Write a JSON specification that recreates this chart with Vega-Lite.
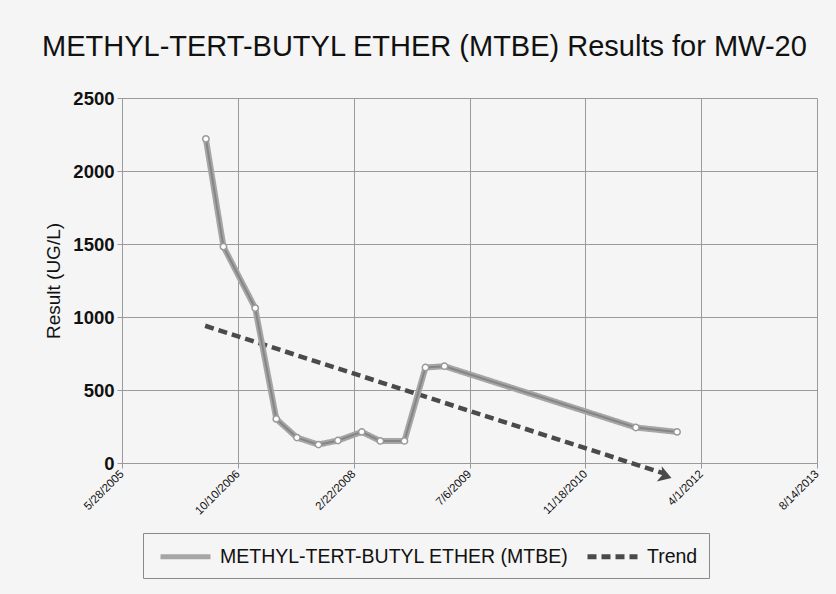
{
  "$schema": "https://vega.github.io/schema/vega-lite/v6.json",
  "width": 695,
  "height": 365,
  "autosize": {"type": "none"},
  "padding": {"left": 122, "top": 98, "right": 19, "bottom": 131},
  "background": "#f5f5f5",
  "title": {
    "text": "METHYL-TERT-BUTYL ETHER (MTBE) Results for MW-20",
    "anchor": "start",
    "frame": "group",
    "dx": -80,
    "offset": 27,
    "fontSize": 29,
    "font": "Liberation Sans",
    "fontWeight": "normal",
    "color": "#111111"
  },
  "config": {
    "font": "Liberation Sans",
    "view": {"stroke": null},
    "axis": {
      "gridColor": "#9a9a9a",
      "gridOpacity": 1,
      "gridWidth": 1,
      "tickColor": "#9a9a9a",
      "domainColor": "#9a9a9a",
      "labelColor": "#111111",
      "titleColor": "#111111",
      "labelFont": "Liberation Sans",
      "titleFont": "Liberation Sans"
    },
    "legend": {
      "orient": "none",
      "legendX": 21,
      "legendY": 435,
      "direction": "horizontal",
      "strokeColor": "#8a8a8a",
      "fillColor": "#f5f5f5",
      "padding": 11,
      "symbolType": "M-2.5,0H2.5",
      "symbolSize": 400,
      "symbolOffset": 19,
      "symbolStrokeWidth": 5,
      "labelFontSize": 19.5,
      "labelLimit": 0,
      "labelFont": "Liberation Sans",
      "labelColor": "#111111",
      "columnPadding": 8,
      "labelOffset": 22
    }
  },
  "datasets": {
    "mtbe": [
      {"date": "2006-05-25", "value": 2220, "series": "METHYL-TERT-BUTYL ETHER (MTBE)"},
      {"date": "2006-08-09", "value": 1482, "series": "METHYL-TERT-BUTYL ETHER (MTBE)"},
      {"date": "2006-12-24", "value": 1061, "series": "METHYL-TERT-BUTYL ETHER (MTBE)"},
      {"date": "2007-03-25", "value": 302, "series": "METHYL-TERT-BUTYL ETHER (MTBE)"},
      {"date": "2007-06-22", "value": 174, "series": "METHYL-TERT-BUTYL ETHER (MTBE)"},
      {"date": "2007-09-23", "value": 126, "series": "METHYL-TERT-BUTYL ETHER (MTBE)"},
      {"date": "2007-12-16", "value": 154, "series": "METHYL-TERT-BUTYL ETHER (MTBE)"},
      {"date": "2008-03-28", "value": 213, "series": "METHYL-TERT-BUTYL ETHER (MTBE)"},
      {"date": "2008-06-16", "value": 151, "series": "METHYL-TERT-BUTYL ETHER (MTBE)"},
      {"date": "2008-09-28", "value": 151, "series": "METHYL-TERT-BUTYL ETHER (MTBE)"},
      {"date": "2008-12-28", "value": 654, "series": "METHYL-TERT-BUTYL ETHER (MTBE)"},
      {"date": "2009-03-20", "value": 663, "series": "METHYL-TERT-BUTYL ETHER (MTBE)"},
      {"date": "2011-06-24", "value": 243, "series": "METHYL-TERT-BUTYL ETHER (MTBE)"},
      {"date": "2011-12-19", "value": 213, "series": "METHYL-TERT-BUTYL ETHER (MTBE)"}
    ],
    "trend": [
      {"date": "2006-05-22", "value": 940, "series": "Trend"},
      {"date": "2011-10-20", "value": -70, "series": "Trend"}
    ],
    "arrow": [
      {"date": "2011-11-05", "value": -92}
    ]
  },
  "encoding": {
    "x": {
      "field": "date",
      "type": "temporal",
      "scale": {
        "domain": [
          {"year": 2005, "month": 5, "date": 28},
          {"year": 2013, "month": 8, "date": 14}
        ]
      },
      "axis": {
        "title": null,
        "values": [
          {"year": 2005, "month": 5, "date": 28},
          {"year": 2006, "month": 10, "date": 10},
          {"year": 2008, "month": 2, "date": 22},
          {"year": 2009, "month": 7, "date": 6},
          {"year": 2010, "month": 11, "date": 18},
          {"year": 2012, "month": 4, "date": 1},
          {"year": 2013, "month": 8, "date": 14}
        ],
        "format": "%-m/%-d/%Y",
        "labelAngle": -45,
        "labelAlign": "right",
        "labelBaseline": "middle",
        "labelFontSize": 11.5,
        "labelPadding": 4,
        "tickSize": 5,
        "domain": false,
        "grid": true
      }
    },
    "y": {
      "field": "value",
      "type": "quantitative",
      "scale": {"domain": [0, 2500], "nice": false, "zero": false},
      "axis": {
        "title": "Result (UG/L)",
        "values": [0, 500, 1000, 1500, 2000, 2500],
        "format": "d",
        "labelFontSize": 18.5,
        "labelFontWeight": "bold",
        "titleFontSize": 19,
        "titleFontWeight": "normal",
        "titlePadding": 9,
        "tickSize": 5,
        "labelPadding": 3,
        "domain": true,
        "grid": true
      }
    }
  },
  "layer": [
    {
      "data": {"name": "trend"},
      "mark": {"type": "line", "strokeWidth": 4.5, "clip": false},
      "encoding": {
        "color": {
          "field": "series",
          "type": "nominal",
          "scale": {
            "domain": ["METHYL-TERT-BUTYL ETHER (MTBE)", "Trend"],
            "range": ["#a6a6a6", "#4a4a4a"]
          },
          "legend": {"title": null}
        },
        "strokeDash": {
          "field": "series",
          "type": "nominal",
          "scale": {
            "domain": ["METHYL-TERT-BUTYL ETHER (MTBE)", "Trend"],
            "range": [[1, 0], [9, 5]]
          },
          "legend": {"title": null}
        }
      }
    },
    {
      "data": {"name": "arrow"},
      "mark": {
        "type": "point",
        "shape": "M-1,-1L0.6,0L-1,1L-0.6,0Z",
        "size": 260,
        "angle": 18,
        "filled": true,
        "color": "#4a4a4a",
        "opacity": 1,
        "clip": false
      }
    },
    {
      "data": {"name": "mtbe"},
      "mark": {"type": "line", "strokeWidth": 6, "strokeCap": "round"},
      "encoding": {
        "color": {"field": "series", "type": "nominal"},
        "strokeDash": {"field": "series", "type": "nominal"}
      }
    },
    {
      "data": {"name": "mtbe"},
      "mark": {"type": "line", "strokeWidth": 2, "color": "#858585"},
      "encoding": {}
    },
    {
      "data": {"name": "mtbe"},
      "mark": {
        "type": "point",
        "shape": "circle",
        "size": 40,
        "filled": true,
        "fill": "#ffffff",
        "stroke": "#9a9a9a",
        "strokeWidth": 1.5,
        "opacity": 1
      }
    }
  ]
}
